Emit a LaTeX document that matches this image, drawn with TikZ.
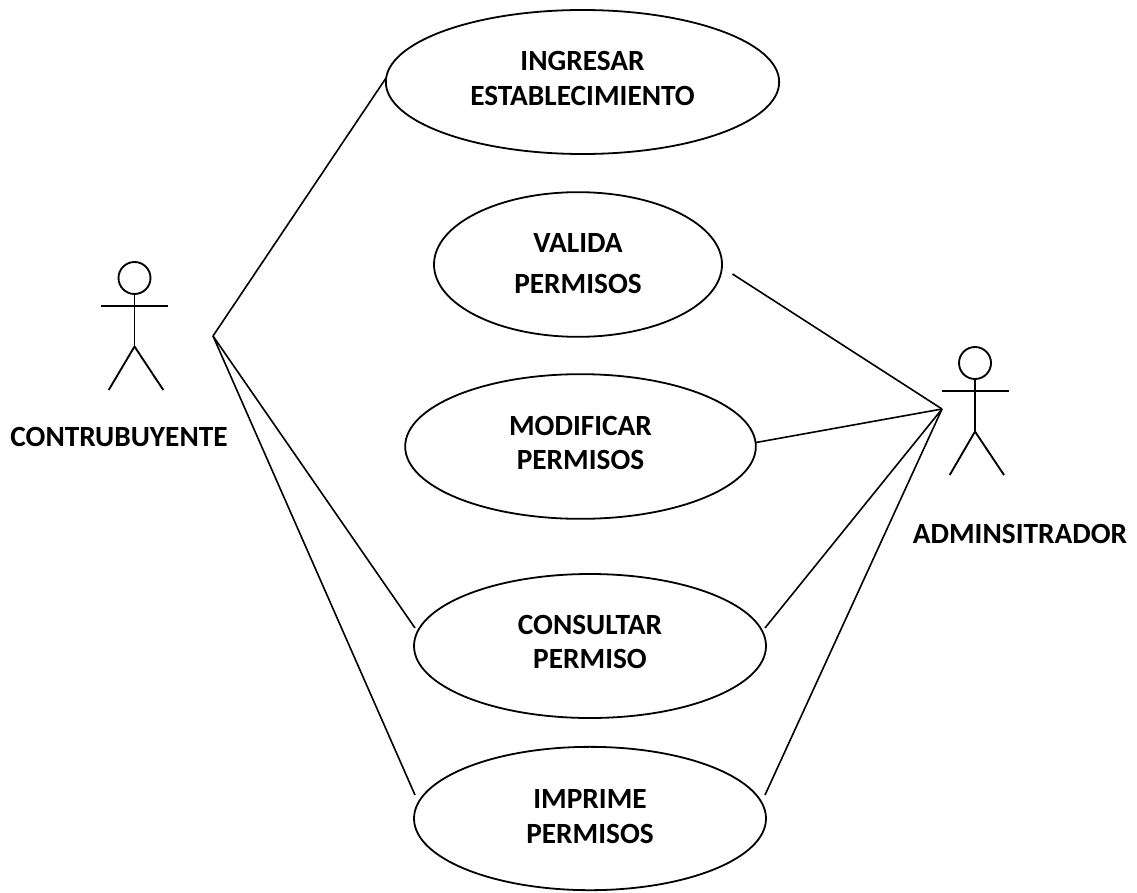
\documentclass[tikz,border=0pt]{standalone}
\usepackage{fontspec}
\setmainfont{Carlito}
\usetikzlibrary{shapes.geometric}
\newdimen\ucpx \ucpx=0.75pt
\newcommand{\ucl}[4]{\makebox[0pt]{\raisebox{#1\ucpx}[0pt][0pt]{#2}}\makebox[0pt]{\raisebox{#3\ucpx}[0pt][0pt]{#4}}}
\tikzset{
  uc/.style={ellipse,draw=black,line width=1.35pt,inner sep=0pt,font=\fontsize{22pt}{28pt}\selectfont\bfseries,fill=white},
  lab/.style={inner sep=0pt,anchor=base,font=\fontsize{22pt}{28pt}\selectfont\bfseries},
  conn/.style={line width=1.2pt,draw=black},
  act/.style={line width=1.4pt,draw=black},
  headc/.style={circle,draw=black,line width=1.4pt,minimum size=24pt,inner sep=0pt}
}
\begin{document}
\begin{tikzpicture}[x=0.75pt,y=-0.75pt]
\useasboundingbox (0,0) rectangle (1137,892);
\fill[white] (0,0) rectangle (1137,892);
% use cases
\node[uc,minimum width=295pt,minimum height=108pt] (a) at (582.5,82) {\ucl{12}{INGRESAR}{-23}{ESTABLECIMIENTO}};
\node[uc,minimum width=216pt,minimum height=108.5pt] (b) at (578,264.5) {\ucl{12.5}{VALIDA}{-28.5}{PERMISOS}};
\node[uc,minimum width=263pt,minimum height=108.5pt] (c) at (580.5,446.5) {\ucl{11.5}{MODIFICAR}{-22.5}{PERMISOS}};
\node[uc,minimum width=264pt,minimum height=108pt] (d) at (590,646) {\ucl{12}{CONSULTAR}{-22}{PERMISO}};
\node[uc,minimum width=264pt,minimum height=107.5pt] (e) at (590,818.5) {\ucl{10.5}{IMPRIME}{-24.5}{PERMISOS}};
% connector ends
\coordinate (ca) at (213,336);
\coordinate (aa) at (942,409);
\coordinate (a1) at (386,78);
\coordinate (d1) at (415,628);
\coordinate (e1) at (415,795);
\coordinate (b2) at (732.5,274);
\coordinate (c2) at (756,442.5);
\coordinate (d2) at (765,628);
\coordinate (e2) at (765,795);
\draw[conn] (ca) -- (a1);
\draw[conn] (ca) -- (d1);
\draw[conn] (ca) -- (e1);
\draw[conn] (aa) -- (b2);
\draw[conn] (aa) -- (c2);
\draw[conn] (aa) -- (d2);
\draw[conn] (aa) -- (e2);
% actor 1
\node[headc] (h1) at (134.5,278) {};
\coordinate (w1) at (134.5,346.5);
\coordinate (al1) at (101,305.7);
\coordinate (ar1) at (168,305.7);
\coordinate (fl1) at (108.7,390);
\coordinate (fr1) at (163.3,390);
\draw[act] (h1.south) -- (w1);
\draw[act] (al1) -- (ar1);
\draw[act] (w1) -- (fl1);
\draw[act] (w1) -- (fr1);
% actor 2
\node[headc] (h2) at (975,363) {};
\coordinate (w2) at (975,431.5);
\coordinate (al2) at (941.7,390.7);
\coordinate (ar2) at (1009,390.7);
\coordinate (fl2) at (949.7,475);
\coordinate (fr2) at (1004,475);
\draw[act] (h2.south) -- (w2);
\draw[act] (al2) -- (ar2);
\draw[act] (w2) -- (fl2);
\draw[act] (w2) -- (fr2);
\node[lab] (l1) at (119,446.7) {CONTRUBUYENTE};
\node[lab] (l2) at (1020,543) {ADMINSITRADOR};
\end{tikzpicture}
\end{document}
